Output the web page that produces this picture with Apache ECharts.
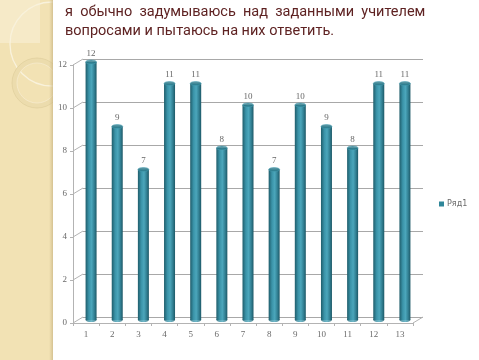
<!DOCTYPE html>
<html><head><meta charset="utf-8">
<script src="https://cdn.jsdelivr.net/npm/echarts@6/dist/echarts.min.js"></script>
<style>html,body{margin:0;padding:0;background:#fff}#c{width:479px;height:360px}</style>
</head><body><div id="c"></div>
<script>
const titleLines = ['я  обычно  задумываюсь  над  заданными  учителем', 'вопросами и пытаюсь на них ответить.'];
const categories = ['1','2','3','4','5','6','7','8','9','10','11','12','13'];
const values = [12, 9, 7, 11, 11, 8, 10, 7, 10, 9, 8, 11, 11];
const seriesName = 'Ряд1';
const yTicks = [0, 2, 4, 6, 8, 10, 12];
const yMax = 12, yInterval = 2;

const DX = 10, DY = 6;        // depth offset of the 3D back wall
const axisGrey = '#b3b3b3';
const gridGrey = '#a8a8a8';
const labelGrey = '#6a6a6a';
const serif = 'Liberation Serif, DejaVu Serif, serif';

const chart = echarts.init(document.getElementById('c'), null, {renderer: 'canvas'});

const barGrad = new echarts.graphic.LinearGradient(0, 0, 1, 0, [
  {offset: 0, color: '#1f5d6b'},
  {offset: 0.3, color: '#3a93a8'},
  {offset: 0.55, color: '#4ba6bb'},
  {offset: 0.8, color: '#317f92'},
  {offset: 1, color: '#1d5866'}
]);

const baseX = {type: 'category', data: categories, boundaryGap: true};
const baseY = {type: 'value', min: 0, max: yMax, interval: yInterval};
const titleFont = '14.5px Roboto, "DejaVu Sans", sans-serif';

const option = {
  animation: false,
  backgroundColor: '#ffffff',
  graphic: [
    {type: 'rect', z: -10, shape: {x: 0, y: 0, width: 53, height: 360}, style: {fill: '#f2e2b4'}},
    {type: 'rect', z: -10, shape: {x: 0, y: 0, width: 40, height: 43}, style: {fill: '#f6eac8'}},
    {type: 'circle', z: -9, shape: {cx: 52, cy: 44, r: 42}, style: {fill: 'none', stroke: '#f9f2dc', lineWidth: 1.3}},
    {type: 'ring', z: -9, shape: {cx: 37, cy: 83, r: 25, r0: 20}, style: {fill: '#ecdcad'}},
    {type: 'circle', z: -9, shape: {cx: 37, cy: 83, r: 25}, style: {fill: 'none', stroke: '#dccb98', lineWidth: 0.6}},
    {type: 'circle', z: -9, shape: {cx: 37, cy: 83, r: 20}, style: {fill: 'none', stroke: '#f8efd6', lineWidth: 0.6}},
    {type: 'rect', z: -8, shape: {x: 49, y: 0, width: 4, height: 360},
      style: {fill: new echarts.graphic.LinearGradient(0, 0, 1, 0, [{offset: 0, color: 'rgba(210,190,140,0)'}, {offset: 1, color: 'rgba(200,180,130,0.7)'}])}},
    {type: 'rect', z: -7, shape: {x: 53, y: 0, width: 426, height: 360}, style: {fill: '#ffffff'}},
    {type: 'text', z: 10, left: 65, top: 5, style: {text: titleLines[0], fill: '#5e2222', font: titleFont}},
    {type: 'text', z: 10, left: 65, top: 24, style: {text: titleLines[1], fill: '#5e2222', font: titleFont}}
  ],
  legend: {
    left: 434, top: 195, itemWidth: 5, itemHeight: 5, itemGap: 4,
    data: [{name: seriesName, icon: 'rect', itemStyle: {color: '#2f8699'}}],
    textStyle: {fontSize: 8, color: labelGrey, fontFamily: 'DejaVu Sans, sans-serif', padding: [0, 0, 0, -2]}
  },
  grid: [
    {left: 83, top: 59, width: 340, height: 258},   // back wall
    {left: 78, top: 62, width: 340, height: 258},   // bars (mid depth)
    {left: 73, top: 65, width: 340, height: 258}    // front axes
  ],
  xAxis: [
    Object.assign({}, baseX, {gridIndex: 0, show: false}),
    Object.assign({}, baseX, {gridIndex: 1, show: false}),
    Object.assign({}, baseX, {gridIndex: 2,
      axisLine: {lineStyle: {color: axisGrey, width: 1}},
      axisTick: {show: true, length: 3, lineStyle: {color: axisGrey}},
      axisLabel: {color: labelGrey, fontSize: 9, fontFamily: serif, margin: 7}})
  ],
  yAxis: [
    Object.assign({}, baseY, {gridIndex: 0, axisLine: {show: false}, axisTick: {show: false}, axisLabel: {show: false},
      splitLine: {show: true, lineStyle: {color: gridGrey, width: 1}}}),
    Object.assign({}, baseY, {gridIndex: 1, show: false, splitLine: {show: false}}),
    Object.assign({}, baseY, {gridIndex: 2, splitLine: {show: false},
      axisLine: {show: true, lineStyle: {color: axisGrey, width: 1}},
      axisTick: {show: true, length: 3, lineStyle: {color: axisGrey}},
      axisLabel: {color: labelGrey, fontSize: 9, fontFamily: serif, margin: 6}})
  ],
  series: [
    {
      type: 'custom', xAxisIndex: 2, yAxisIndex: 2, z: 1, silent: true,
      data: yTicks.map(v => [0, v]),
      renderItem: function (params, api) {
        const cs = params.coordSys;
        const y = api.coord([0, api.value(1)])[1];
        return {type: 'line', shape: {x1: cs.x, y1: y, x2: cs.x + DX, y2: y - DY},
          style: {stroke: axisGrey, lineWidth: 1}};
      }
    },
    {
      type: 'custom', xAxisIndex: 2, yAxisIndex: 2, z: 1, silent: true,
      data: [[0, 0]],
      renderItem: function (params, api) {
        const cs = params.coordSys;
        const y = api.coord([0, 0])[1];
        return {type: 'line', shape: {x1: cs.x + cs.width, y1: y, x2: cs.x + cs.width + DX, y2: y - DY},
          style: {stroke: axisGrey, lineWidth: 1}};
      }
    },
    {
      type: 'scatter', xAxisIndex: 1, yAxisIndex: 1, z: 3, silent: true,
      data: values.map(() => 0), symbol: 'circle', symbolSize: [11, 4],
      itemStyle: {color: barGrad}
    },
    {
      name: seriesName, type: 'bar', xAxisIndex: 1, yAxisIndex: 1, z: 4,
      data: values, barWidth: 11,
      itemStyle: {color: barGrad}
    },
    {
      type: 'scatter', xAxisIndex: 1, yAxisIndex: 1, z: 5, silent: true,
      data: values, symbol: 'circle', symbolSize: [11, 4],
      itemStyle: {color: '#2b7888', borderColor: '#4aa2b6', borderWidth: 0.6},
      label: {show: true, position: 'top', distance: 2, color: '#404040', fontSize: 9, fontFamily: serif}
    }
  ]
};
chart.setOption(option);
</script></body></html>
